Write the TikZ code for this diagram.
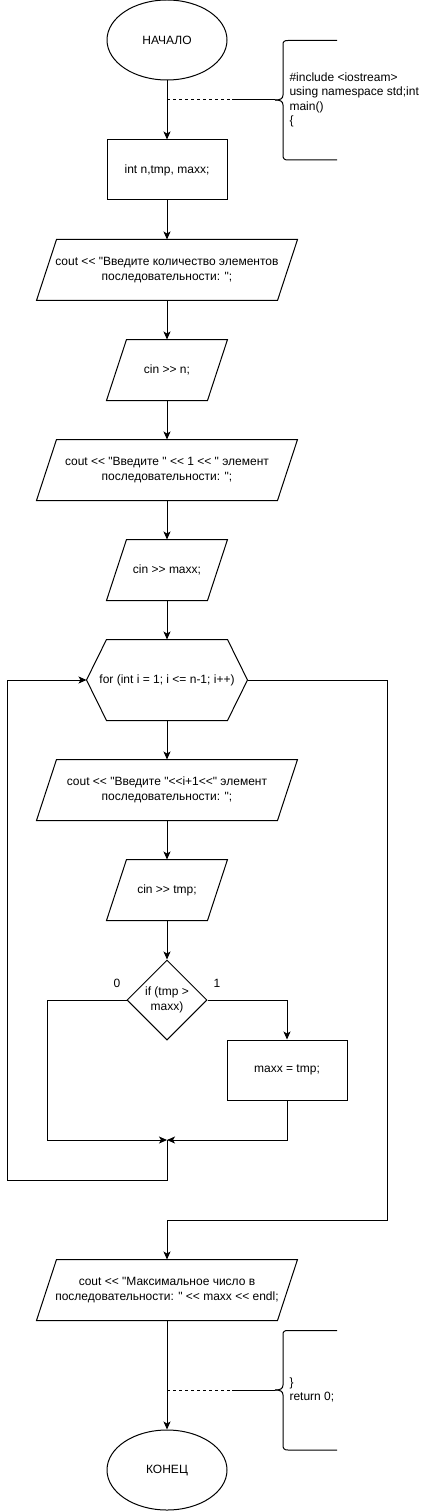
\documentclass[tikz,border=0pt]{standalone}
\usepackage{fontspec}
\newfontfamily\arialf{Liberation Sans}
\usetikzlibrary{shapes.geometric,arrows.meta,calc}
\newcommand\pgram[1]{\draw[shp] ($(#1.north west)+(10,0)$) -- ($(#1.north east)+(10,0)$) -- ($(#1.south east)+(-10,0)$) -- ($(#1.south west)+(-10,0)$) -- cycle;}
\newcommand\annbrace[1]{\begin{scope}[shift={(#1)}]
\draw (0,0) .. controls (5,0) and (8,-1) .. (8,-5) -- (8,-55) .. controls (8,-58.5) and (9,-59.5) .. (13,-59.5) -- (62,-59.5);
\draw (0,0) .. controls (5,0) and (8,1) .. (8,5) -- (8,55) .. controls (8,58.5) and (9,60) .. (13,60) -- (62,60);
\end{scope}}
\begin{document}
\begin{tikzpicture}[x=1pt,y=-1pt, line width=1pt, font=\arialf\fontsize{12}{14.4}\selectfont,
 box/.style={draw, rectangle, minimum width=120pt, minimum height=60pt, inner sep=0pt, align=center},
 term/.style={draw, ellipse, minimum width=120pt, minimum height=80pt, inner sep=0pt},
 iobox/.style={rectangle, minimum height=60pt, inner sep=0pt, align=center},
 shp/.style={draw, line join=miter},
 arr/.style={-{Stealth[length=8pt,width=7pt,inset=2pt]}},
 dash1/.style={dash pattern=on 3pt off 3pt},
 lbl/.style={inner sep=0pt},
 anntext/.style={anchor=west, align=left, inner sep=0pt}]
\useasboundingbox (0,0) rectangle (438,1511);

\node[term] (start) at (167,40) {НАЧАЛО};
\node[box] (decl) at (167,170) {int n,tmp, maxx;};
\node[iobox, minimum width=240pt] (in1) at (167,270) {cout << "Введите количество элементов\\последовательности: ";};
\pgram{in1}
\node[iobox, minimum width=100pt] (rn) at (167,370) {cin >> n;};
\pgram{rn}
\node[iobox, minimum width=240pt] (in2) at (167,470) {cout << "Введите " << 1 << " элемент\\последовательности: ";};
\pgram{in2}
\node[iobox, minimum width=100pt] (rmax) at (167,570) {cin >> maxx;};
\pgram{rmax}
\node[rectangle, minimum width=160pt, minimum height=80pt, inner sep=0pt] (loop) at (167,680) {for (int i = 1; i <= n-1; i++)};
\draw[shp] (loop.west) -- ($(loop.north west)+(20,0)$) -- ($(loop.north east)+(-20,0)$) -- (loop.east) -- ($(loop.south east)+(-20,0)$) -- ($(loop.south west)+(20,0)$) -- cycle;
\node[iobox, minimum width=240pt] (in3) at (167,790) {cout << "Введите "<<i+1<<" элемент\\последовательности: ";};
\pgram{in3}
\node[iobox, minimum width=100pt] (rtmp) at (167,890) {cin >> tmp;};
\pgram{rtmp}
\node[draw, diamond, aspect=1, minimum width=80pt, minimum height=80pt, inner sep=0pt, align=center] (cond) at (167,1000) {if (tmp >\\maxx)};
\node[lbl] (l0) at (117,983) {0};
\node[lbl] (l1) at (217,983) {1};
\node[box] (upd) at (287,1070) {maxx = tmp;};
\node[iobox, minimum width=240pt] (out) at (167,1290) {cout << "Максимальное число в\\последовательности: " << maxx << endl;};
\pgram{out}
\node[term] (end) at (167,1470) {КОНЕЦ};

\coordinate (m) at (167,1140);
\coordinate (lc) at (47,1140);
\coordinate (lb) at (7,1180);
\coordinate (rb) at (387,1220);

\draw[arr] (start) -- (decl);
\draw[arr] (decl.south) -- (in1.north);
\draw[arr] (in1.south) -- (rn.north);
\draw[arr] (rn.south) -- (in2.north);
\draw[arr] (in2.south) -- (rmax.north);
\draw[arr] (rmax.south) -- (loop.north);
\draw[arr] (loop.south) -- (in3.north);
\draw[arr] (in3.south) -- (rtmp.north);
\draw[arr] (rtmp.south) -- (cond.north);
\draw[arr] (cond.east) -| (upd.north);
\draw[arr] (cond.west) -| (lc) -- (m);
\draw[arr] (upd.south) |- (m);
\draw[arr] (m) |- (lb) |- (loop.west);
\draw[arr] (loop.east) -| (rb) -| (out.north);
\draw[arr] (out.south) -- (end.north);

% annotations
\coordinate (d1) at (167,100);
\coordinate (j1) at (232,100);
\coordinate (b1) at (275,100);
\draw[dash1] (d1) -- (j1);
\draw (j1) -- (b1);
\annbrace{b1}
\node[anntext] (t1) at (289,100) {\#include <iostream>\\using namespace std;int\\main()\\\{};

\coordinate (d2) at (167,1390);
\coordinate (j2) at (232,1390);
\coordinate (b2) at (275,1390);
\draw[dash1] (d2) -- (j2);
\draw (j2) -- (b2);
\annbrace{b2}
\node[anntext] (t2) at (289,1390) {\}\\return 0;};
\end{tikzpicture}
\end{document}
